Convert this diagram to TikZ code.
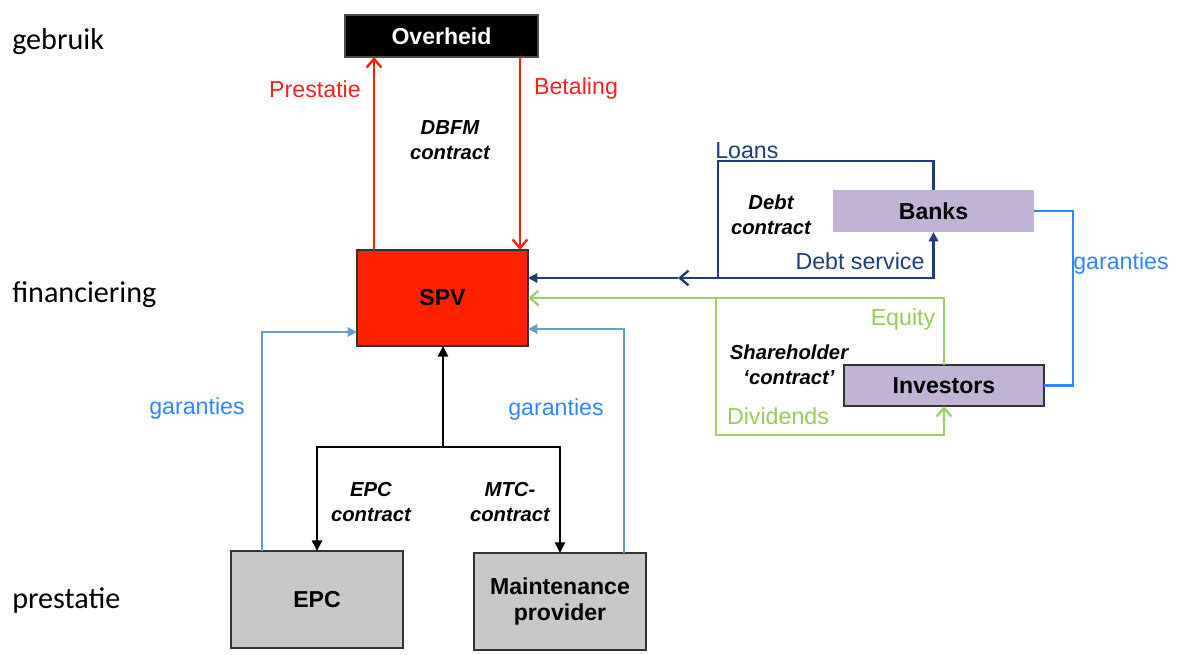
\documentclass[tikz,border=0pt]{standalone}
\usepackage{fontspec}
\setmainfont{Liberation Sans}
\newfontfamily\stagefont{Carlito}
\usetikzlibrary{arrows.meta}

\definecolor{spvred}{HTML}{FF2200}
\definecolor{txtred}{HTML}{FF2020}
\definecolor{bankfill}{HTML}{C0B3D5}
\definecolor{boxgray}{HTML}{C8C8C8}
\definecolor{navyline}{HTML}{1F3D7A}
\definecolor{greenline}{HTML}{9BD26A}
\definecolor{greentxt}{HTML}{99CC55}
\definecolor{guarblue}{HTML}{2F86FF}
\definecolor{steelline}{HTML}{6A9BD2}

\tikzset{
  boxsz/.style 2 args={minimum width=#1*0.75pt, minimum height=#2*0.75pt},
  entity/.style={rectangle, inner sep=0pt, outer sep=0pt, align=center,
    font=\fontsize{17.3}{19.5}\selectfont\bfseries},
  contract/.style={align=center, font=\fontsize{15.2}{18.8}\selectfont\bfseries\itshape},
  flowlabel/.style={font=\fontsize{17.4}{20}\selectfont, inner sep=0pt},
  stage/.style={anchor=west, inner sep=0pt, font=\stagefont\fontsize{22.6}{26}\selectfont},
  conn/.style={line width=1.9pt},
  thinconn/.style={line width=1.5pt},
  openhead/.style={-{Straight Barb[length=6.5pt,width=11pt,line width=1.8pt]}},
  solidhead/.style={-{Triangle[length=8pt,width=7.5pt]}},
  smallhead/.style={-{Triangle[length=7pt,width=7pt]}},
}

\begin{document}
\begin{tikzpicture}[x=0.75pt, y=-0.75pt]
\useasboundingbox (0,0) rectangle (1177,655);

% stage labels
\node[stage] (sg) at (12,42) {gebruik};
\node[stage] (sf) at (12,295) {financiering};
\node[stage] (sp) at (12,601) {prestatie};

% parties
\node[entity, boxsz={193}{42}, fill=black, draw=black!70, line width=1pt, text=white] (ovh) at (441.5,36) {Overheid};
\node[entity, boxsz={171}{96}, fill=spvred, draw=black!80, line width=1.5pt] (spv) at (442.5,298) {SPV};
\node[entity, boxsz={201}{42}, fill=bankfill] (banks) at (933.5,211) {Banks};
\node[entity, boxsz={200}{41}, fill=bankfill, draw=black!80, line width=1.5pt] (inv) at (944,385.5) {Investors};
\node[entity, boxsz={172}{97}, fill=boxgray, draw=black!80, line width=1.5pt] (epc) at (317,599.5) {EPC};
\node[entity, boxsz={172}{97}, fill=boxgray, draw=black!80, line width=1.5pt] (mp) at (560,601.5) {Maintenance\\provider};

% helper points for routed connectors
\coordinate (xP) at (374,0);
\coordinate (xB) at (520,0);
\coordinate (lc) at (718,161);
\coordinate (lj) at (718,278);
\coordinate (lm) at (678,278);
\coordinate (gj) at (716,298);
\coordinate (gb) at (716,435);
\coordinate (gr) at (1073,300);
\coordinate (gl) at (262,332);
\coordinate (gm) at (624,329);
\coordinate (br) at (443,447);

% DBFM contract
\draw[conn, spvred, openhead] (spv.north -| xP) -- (ovh.south -| xP);
\draw[conn, spvred, openhead] (ovh.south -| xB) -- (spv.north -| xB);
\node[flowlabel, text=txtred] (lprest) at (315,89) {Prestatie};
\node[flowlabel, text=txtred] (lbet) at (576,89) {Betaling};
\node[contract] (ldbfm) at (450,140) {DBFM\\contract};

% debt contract
\draw[conn, navyline, openhead] (banks.north) |- (lc) -- (lj) -- (lm);
\draw[conn, navyline, smallhead] (lm) -- (spv.east |- lj);
\draw[conn, navyline, smallhead] (lj) -| (banks.south);
\node[flowlabel, text=navyline, anchor=west] (lloans) at (715,151) {Loans};
\node[flowlabel, text=navyline] (ldebt) at (860,261) {Debt service};
\node[contract] (ldc) at (771,215) {Debt\\contract};

% shareholder contract
\draw[conn, greenline, openhead] (inv.north) |- (spv.east);
\draw[conn, greenline, openhead] (gj) -- (gb) -| (inv.south);
\node[flowlabel, text=greentxt] (leq) at (903,320) {Equity};
\node[flowlabel, text=greentxt] (ldiv) at (778,416) {Dividends};
\node[contract] (lsh) at (789,365) {Shareholder\\`contract'};

% guarantees
\draw[conn, guarblue] (banks.east) -| (gr) |- (inv.east);
\node[flowlabel, text=guarblue] (lg1) at (1121,264) {garanties};
\draw[thinconn, steelline, smallhead] (epc.north -| gl) |- (spv.west |- gl);
\draw[thinconn, steelline, smallhead] (mp.north -| gm) |- (spv.east |- gm);
\node[flowlabel, text=guarblue] (lg2) at (197,409) {garanties};
\node[flowlabel, text=guarblue] (lg3) at (556,410) {garanties};

% construction and maintenance contracts
\draw[conn, black, solidhead] (br) -- (spv.south -| br);
\draw[conn, black, solidhead] (br) -| (epc.north);
\draw[conn, black, solidhead] (br) -| (mp.north);
\node[contract] (lepc) at (371,502) {EPC\\contract};
\node[contract] (lmtc) at (510,502) {MTC-\\contract};
\end{tikzpicture}
\end{document}
